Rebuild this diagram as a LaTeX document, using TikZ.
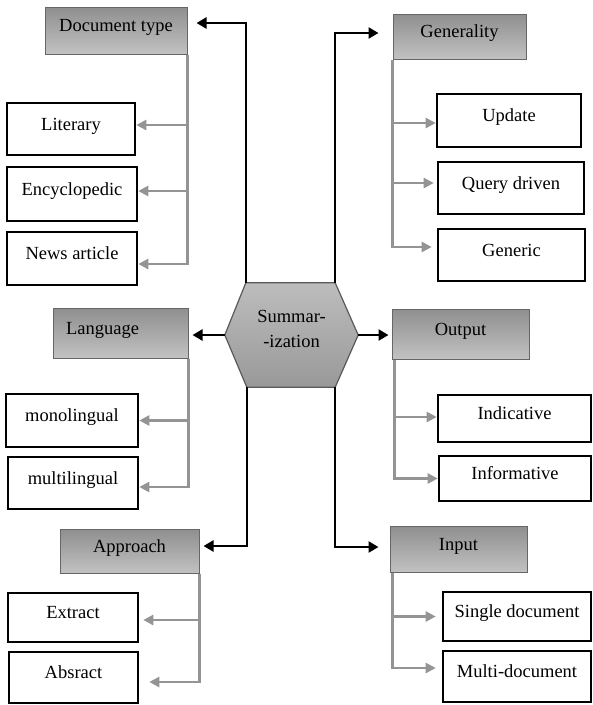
\documentclass[tikz,border=0pt]{standalone}
\usepackage{fontspec}
\setmainfont{Liberation Serif}
\newfontfamily\boxfont{Liberation Serif}
\usetikzlibrary{arrows.meta,calc,backgrounds}
\begin{document}
\begin{tikzpicture}[x=1pt,y=-1pt,
 font=\boxfont\fontsize{18.5}{25}\selectfont,
 hdr/.style={draw=black!60,line width=1pt,top color=black!44,bottom color=black!24,inner sep=0pt,text height=13pt,text depth=11pt},
 leaf/.style={draw=black,line width=2.6pt,fill=white,inner sep=0pt,text height=13pt,text depth=11pt},
 sz/.style 2 args={minimum width=#1pt,minimum height=#2pt},
 barrow/.style={draw=black,line width=2.5pt,-{Triangle[length=10pt,width=11pt]}},
 garrow/.style={draw=black!42,line width=2.4pt,-{Triangle[length=10pt,width=10pt]}},
]
\useasboundingbox (0,0) rectangle (593,705);
% left column
\node[hdr,sz={142}{47}] (doc) at (116,30.5) {Document type};
\node[leaf,sz={128}{52}] (lit) at (71,129) {Literary};
\node[leaf,sz={130}{54}] (enc) at (72,194) {Encyclopedic};
\node[leaf,sz={130}{53}] (news) at (72,258.5) {News article};
\node[hdr,sz={135}{50}] (lang) at (120.5,333) {Language\hspace*{36pt}};
\node[leaf,sz={132}{53}] (mono) at (72,420.5) {monolingual};
\node[leaf,sz={130}{52}] (multi) at (73,483) {multilingual};
\node[hdr,sz={139}{44}] (appr) at (129.5,551) {Approach};
\node[leaf,sz={130}{49}] (ext) at (73,617.5) {Extract};
\node[leaf,sz={129}{51}] (abs) at (73.5,677.5) {Absract};
% right column
\node[hdr,sz={133}{45}] (gen) at (459.5,36.5) {Generality};
\node[leaf,sz={144}{53}] (upd) at (509,120.5) {Update};
\node[leaf,sz={146}{52}] (qry) at (511,188) {Query driven};
\node[leaf,sz={147}{52}] (gnc) at (511.5,255) {Generic};
\node[hdr,sz={137}{50}] (out) at (460.5,334) {Output};
\node[leaf,sz={153}{47}] (ind) at (514.5,418.5) {Indicative};
\node[leaf,sz={152}{45}] (inf) at (515,478.5) {Informative};
\node[hdr,sz={137}{46}] (inp) at (458.5,549) {Input};
\node[leaf,sz={148}{49}] (sgl) at (517,616.5) {Single document};
\node[leaf,sz={148}{51}] (mlt) at (517,676.5) {Multi-document};
% centre hexagon
\node[sz={133}{104},inner sep=0pt,align=center,text depth=13pt] (sum) at (291.5,335) {Summar-\\-ization};
\coordinate (hTL) at ($(sum.north west)+(21,0)$);
\coordinate (hTR) at ($(sum.north east)+(-23,0)$);
\coordinate (hBL) at ($(sum.south west)+(22,0)$);
\coordinate (hBR) at ($(sum.south east)+(-23,0)$);
\begin{scope}[on background layer]
\draw[draw=black!65,line width=1.2pt,top color=black!26,bottom color=black!40] (sum.west) -- (hTL) -- (hTR) -- (sum.east) -- (hBR) -- (hBL) -- cycle;
\end{scope}
% black connectors
\draw[barrow,shorten >=9pt] (hTL) |- ($(doc.east)+(0,-7.5)$);
\draw[barrow,shorten >=14pt] (hTR) |- ($(gen.west)+(0,-3.5)$);
\draw[barrow,shorten >=4pt] (sum.west) -- (sum.west -| lang.east);
\draw[barrow,shorten >=3pt] (sum.east) -- (sum.east -| out.west);
\draw[barrow,shorten >=4pt] (hBL) |- ($(appr.east)+(0,-5)$);
\draw[barrow,shorten >=11pt] (hBR) |- ($(inp.west)+(0,-2)$);
% gray connectors: document type
\coordinate (d1) at ($(lit.east)+(0,-4)$);
\coordinate (d2) at ($(enc.east)+(0,-3)$);
\coordinate (d3) at ($(news.east)+(0,5.5)$);
\draw[garrow] (doc.south east) |- (d3);
\draw[garrow] (doc.south east |- d1) -- (d1);
\draw[garrow] (doc.south east |- d2) -- (d2);
% generality
\coordinate (g1) at ($(upd.west)+(0,2.5)$);
\coordinate (g2) at ($(qry.west)+(0,-5)$);
\coordinate (g3) at ($(gnc.west)+(0,-8)$);
\draw[garrow,shorten >=5pt] (gen.south west) |- (g3);
\draw[garrow] (gen.south west |- g1) -- (g1);
\draw[garrow,shorten >=3pt] (gen.south west |- g2) -- (g2);
% language
\coordinate (l1) at (mono.east);
\coordinate (l2) at ($(multi.east)+(0,4)$);
\draw[garrow] (lang.south east) |- (l2);
\draw[garrow] (lang.south east |- l1) -- (l1);
% approach
\coordinate (a1) at ($(ext.east)+(0,2.5)$);
\coordinate (a2) at ($(abs.east)+(0,4.5)$);
\draw[garrow,shorten >=10pt] (appr.south east) |- (a2);
\draw[garrow,shorten >=4pt] (appr.south east |- a1) -- (a1);
% output
\coordinate (ot) at ($(out.south west)+(3,0)$);
\coordinate (o1) at ($(ind.west)+(0,-1.5)$);
\coordinate (o2) at (inf.west);
\draw[garrow] (ot) |- (o2);
\draw[garrow] (ot |- o1) -- (o1);
% input
\coordinate (it) at ($(inp.south west)+(3,0)$);
\coordinate (i1) at (sgl.west);
\coordinate (i2) at ($(mlt.west)+(0,-8.5)$);
\draw[garrow,shorten >=6pt] (it) |- (i2);
\draw[garrow,shorten >=6pt] (it |- i1) -- (i1);
\end{tikzpicture}
\end{document}
